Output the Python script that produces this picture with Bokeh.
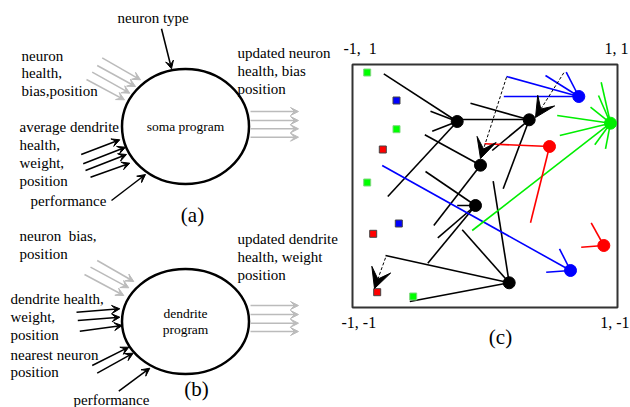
from bokeh.plotting import figure
from bokeh.models import Range1d, Arrow, VeeHead, ColumnDataSource
from bokeh.core.properties import value
from bokeh.embed import file_html
from bokeh.resources import INLINE

NB = "\u00a0"

# ---------------- data (diagram coordinates, image pixels) ----------------
# Panel (a)/(b) program circles: centre x, centre y, width, height
prog_x = [185, 185]
prog_y = [126, 321]
prog_w = [127, 127]
prog_h = [115, 105]
prog_names = [["soma program"], ["dendrite", "program"]]

# Panel labels
panel_labels = ["(a)", "(b)", "(c)"]
panel_lx = [192, 196, 500]
panel_ly = [214, 388, 336]

# Text blocks in panels (a) and (b)
label_lines = [
    ["neuron type"],
    ["neuron", "health,", "bias,position"],
    ["average dendrite", "health,", "weight,", "position"],
    ["performance"],
    ["updated neuron", "health, bias", "position"],
    ["neuron" + NB + NB + "bias,", "position"],
    ["dendrite health,", "weight,", "position"],
    ["nearest neuron", "position"],
    ["performance"],
    ["updated dendrite", "health, weight", "position"],
]
label_x = [117, 21, 19, 30, 237, 19, 10, 10, 73, 237]
label_y = [17, 55, 126, 200, 52, 235, 298, 354, 399, 238]
label_step = [18, 17.5, 18.2, 18, 18.3, 18.3, 18.3, 17.7, 18, 18.3]

# Grey input/output arrows (x0, y0, x1, y1)
grey_x0 = [101.7, 96.7, 91.7, 86, 250, 250, 250, 250,
           96.7, 90, 84, 250, 250, 250, 250]
grey_y0 = [57.3, 65, 71.7, 79, 111, 120, 128.3, 136.7,
           260, 266.7, 274, 305, 314, 322.7, 331]
grey_x1 = [140, 135, 129.3, 124, 298, 298, 298, 298,
           133.3, 128.3, 123.3, 298, 298, 298, 298]
grey_y1 = [79.3, 86, 92.7, 99.3, 111, 120, 128.3, 136.7,
           281, 287.3, 295, 305, 314, 322.7, 331]

# Black input arrows
blk_x0 = [161, 80.7, 82.7, 85, 90, 111, 76, 77.3, 79.3, 91.7, 96.7, 118.3]
blk_y0 = [28.3, 154, 163.3, 170, 176.7, 200, 311.7, 320, 330.7, 365, 372.7, 390.7]
blk_x1 = [171, 119.3, 125, 126, 129.3, 145, 119.3, 119.3, 121.7, 128.3, 132.7, 149.3]
blk_y1 = [68.3, 139.3, 146.7, 154, 162.7, 174, 308.3, 316.7, 325, 346.7, 352.7, 367.7]

# Panel (c) frame and corner labels
box_l, box_r, box_t, box_b = 352, 617, 64, 307
corner_text = ["-1," + NB + NB + "1", "1, 1", "-1, -1", "1, -1"]
corner_x = [343, 628, 341, 629]
corner_y = [48, 48, 322, 322]
corner_align = ["left", "right", "left", "right"]

# Panel (c) neurons
neuron_x = [456.7, 528.7, 480, 475, 508.7]
neuron_y = [121, 119.3, 164.7, 205, 282.3]
out_x = [578.3, 610, 549, 603.3, 570]
out_y = [96, 122.7, 146, 245, 270]
out_c = ["#0000ff", "#00ee00", "#ff0000", "#ff0000", "#0000ff"]

# Panel (c) dendrite segments
dend_x0 = [383.3, 430, 431.7, 387.3, 456.7, 470, 491.7, 502.7, 424.3, 433.3,
           425, 456.7, 437.3, 427.3, 461.7, 385, 409.3, 492.7]
dend_y0 = [73.3, 110.7, 130.7, 196, 119, 102.7, 150, 188.3, 134.3, 225,
           171, 205, 237.3, 262.7, 229.3, 255, 301, 180.7]
dend_x1 = [456.7, 456.7, 456.7, 456.7, 528.7, 528.7, 528.7, 528.7, 480, 480,
           475, 475, 475, 475, 508.7, 508.7, 508.7, 508.7]
dend_y1 = [121, 121, 121, 121, 119, 119.3, 119.3, 119.3, 164.7, 164.7,
           205, 205, 205, 205, 282.3, 282.3, 282.3, 282.3]

col_x0 = [506, 545, 565.7, 503.3, 381.7, 559, 545.7,
          600.7, 598, 590, 556.7, 559.3, 594.3, 605, 471.7,
          484, 549, 590.7, 580.7]
col_y0 = [76, 75, 71.7, 96, 165, 248.3, 271.7,
          81.7, 95, 106.7, 115, 135, 144.3, 148.3, 230,
          143.3, 146, 222.3, 246.7]
col_x1 = [578.3, 578.3, 578.3, 578.3, 570, 570, 570,
          610, 610, 610, 610, 610, 610, 610, 610,
          549, 530, 603.3, 603.3]
col_y1 = [96, 96, 96, 96, 270, 270, 270,
          122.7, 122.7, 122.7, 122.7, 122.7, 122.7, 122.7, 122.7,
          146, 222.3, 245, 245]
col_c = ["#0000ff"] * 7 + ["#00ee00"] * 8 + ["#ff0000"] * 4

# dashed moves
dash_x0 = [506, 563.3, 385]
dash_y0 = [76.7, 72.3, 257.3]
dash_x1 = [480, 535, 374]
dash_y1 = [158, 117, 288]

# small squares
sq_x = [366.7, 396, 366.7, 412.7, 396, 398.3, 382.3, 372.7, 376.7]
sq_y = [72, 128.7, 182, 296, 100, 223, 149, 233.3, 291.7]
sq_c = ["#00ff00"] * 4 + ["#0000ff"] * 2 + ["#ff0000"] * 3
sq_lc = ["#7fd87f"] * 4 + ["#444444"] * 5

# ---------------- figure ----------------
W, H = 630, 407
p = figure(width=W, height=H, x_range=Range1d(0, W), y_range=Range1d(H, 0),
           output_backend="svg", toolbar_location=None, min_border=0)
p.axis.visible = False
p.grid.visible = False
p.outline_line_color = None
p.background_fill_color = "white"

SERIF = value("Liberation Serif")

# program circles
p.ellipse(x=prog_x, y=prog_y, width=prog_w, height=prog_h,
          fill_color=None, line_color="black", line_width=2.5)
for cx, cy, names in zip(prog_x, prog_y, prog_names):
    n = len(names)
    for i, t in enumerate(names):
        p.text(x=[cx], y=[cy + (i - (n - 1) / 2) * 16], text=[t], text_font=SERIF,
               text_font_size="13.5px", text_align="center", text_baseline="middle",
               text_color="black")

# labels
for lines, lx, ly, st in zip(label_lines, label_x, label_y, label_step):
    p.text(x=[lx] * len(lines), y=[ly + i * st for i in range(len(lines))], text=lines,
           text_font=SERIF, text_font_size="15px", text_align="left",
           text_baseline="middle", text_color="black")

p.text(x=panel_lx, y=panel_ly, text=panel_labels, text_font=SERIF,
       text_font_size="21px", text_align="center", text_baseline="middle",
       text_color="black")

# arrows
grey_src = ColumnDataSource(dict(x0=grey_x0, y0=grey_y0, x1=grey_x1, y1=grey_y1))
p.add_layout(Arrow(source=grey_src, x_start="x0", y_start="y0", x_end="x1", y_end="y1",
                   line_color="#bbbbbb", line_width=1.5,
                   end=VeeHead(size=8, fill_color="#bbbbbb", line_color="#bbbbbb", line_width=1)))
blk_src = ColumnDataSource(dict(x0=blk_x0, y0=blk_y0, x1=blk_x1, y1=blk_y1))
p.add_layout(Arrow(source=blk_src, x_start="x0", y_start="y0", x_end="x1", y_end="y1",
                   line_color="black", line_width=1.5,
                   end=VeeHead(size=8, fill_color="black", line_color="black", line_width=1)))

# panel (c)
p.quad(left=[box_l], right=[box_r], top=[box_t], bottom=[box_b], fill_color=None,
       line_color="#333333", line_width=2)
p.text(x=corner_x, y=corner_y, text=corner_text, text_font=SERIF, text_font_size="16px",
       text_align=corner_align, text_baseline="middle", text_color="black")

p.segment(x0=dend_x0, y0=dend_y0, x1=dend_x1, y1=dend_y1, line_color="black", line_width=1.6)
p.segment(x0=col_x0, y0=col_y0, x1=col_x1, y1=col_y1, line_color=col_c, line_width=1.6)

dash_src = ColumnDataSource(dict(x0=dash_x0, y0=dash_y0, x1=dash_x1, y1=dash_y1))
p.add_layout(Arrow(source=dash_src, x_start="x0", y_start="y0", x_end="x1", y_end="y1",
                   line_color="black", line_width=1, line_dash="3 2",
                   end=VeeHead(size=20, fill_color="black", line_color="black", line_width=1,
                               line_dash="solid")))

p.scatter(x=neuron_x, y=neuron_y, size=12, marker="circle", fill_color="black",
          line_color="black")
p.scatter(x=out_x, y=out_y, size=12, marker="circle", fill_color=out_c, line_color=out_c)
p.scatter(x=sq_x, y=sq_y, size=7, marker="square", fill_color=sq_c, line_color=sq_lc,
          line_width=1)

open("out.html", "w").write(file_html(p, INLINE))
